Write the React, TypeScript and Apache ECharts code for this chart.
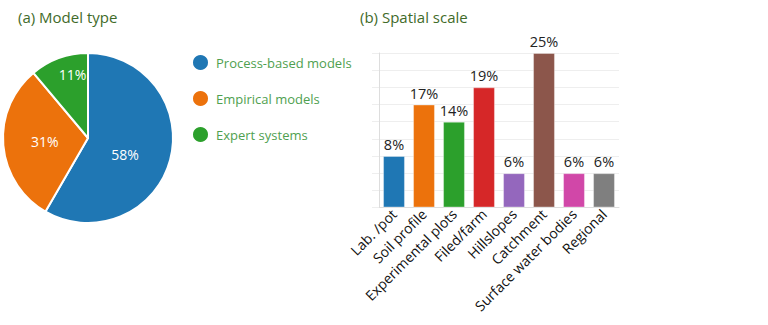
import React, { useEffect, useRef } from "react";
import * as echarts from "echarts";

const modelTypes = ["Process-based models", "Empirical models", "Expert systems"];
const modelCounts = [21, 11, 4];
const modelColors = ["#1f77b4", "#ec720c", "#2ca02c"];

const scaleCategories = [
  "Lab. /pot",
  "Soil profile",
  "Experimental plots",
  "Filed/farm",
  "Hillslopes",
  "Catchment",
  "Surface water bodies",
  "Regional",
];
const scaleCounts = [3, 6, 5, 7, 2, 9, 2, 2];
const scaleColors = ["#1f77b4", "#ec720c", "#2ca02c", "#d62728", "#9467bd", "#8c564b", "#d147a8", "#7f7f7f"];

const FONT = "'Open Sans', 'Noto Sans', sans-serif";

export default function App() {
  const ref = useRef<HTMLDivElement>(null);
  useEffect(() => {
    if (!ref.current) return;
    const chart = echarts.init(ref.current, null, { renderer: "svg" });
    const total = scaleCounts.reduce((a, b) => a + b, 0);
    const pieOffsets = [[-7, 5], [2, 0], [0, -21]];
    chart.setOption({
      animation: false,
      backgroundColor: "#ffffff",
      textStyle: { fontFamily: FONT },
      title: [
        {
          text: "(a) Model type",
          left: 13,
          top: 4,
          textStyle: { color: "#3f6b2a", fontSize: 15, fontWeight: "normal", fontFamily: FONT },
        },
        {
          text: "(b) Spatial scale",
          left: 355,
          top: 4,
          textStyle: { color: "#3f6b2a", fontSize: 15, fontWeight: "normal", fontFamily: FONT },
        },
      ],
      legend: {
        orient: "vertical",
        left: 186,
        top: 48,
        icon: "circle",
        itemWidth: 17,
        itemHeight: 17,
        itemGap: 17,
        data: modelTypes,
        textStyle: { color: "#4f9f50", fontSize: 13, fontFamily: FONT, padding: [0, 0, 0, 2] },
        selectedMode: false,
      },
      grid: { left: 379, right: 149, top: 53, bottom: 117.5, containLabel: false },
      xAxis: {
        type: "category",
        data: scaleCategories,
        axisLine: { lineStyle: { color: "#dddddd" } },
        axisTick: { show: false },
        axisLabel: {
          interval: 0,
          rotate: 45,
          color: "#111111",
          fontSize: 14,
          fontFamily: FONT,
          margin: 4,
        },
      },
      yAxis: {
        type: "value",
        min: 0,
        max: 9,
        interval: 1,
        axisLabel: { show: false },
        axisLine: { show: true, lineStyle: { color: "#dddddd" } },
        axisTick: { show: true, length: 7, lineStyle: { color: "#eeeeee" } },
        splitLine: { lineStyle: { color: "#eeeeee" } },
      },
      series: [
        {
          type: "pie",
          center: [88, 138],
          radius: [0, 85],
          startAngle: 90,
          clockwise: true,
          data: modelTypes.map((name, i) => ({
            name,
            value: modelCounts[i],
            itemStyle: { color: modelColors[i] },
            label: { offset: pieOffsets[i] },
          })),
          itemStyle: { borderColor: "#ffffff", borderWidth: 2 },
          label: {
            show: true,
            position: "inside",
            color: "#ffffff",
            fontSize: 14,
            fontFamily: FONT,
            formatter: (p: any) => Math.round(p.percent) + "%",
          },
          labelLine: { show: false },
          emphasis: { disabled: true },
        },
        {
          type: "bar",
          barCategoryGap: "27%",
          data: scaleCounts.map((v, i) => ({
            value: v,
            itemStyle: { color: scaleColors[i], borderColor: "rgba(255,255,255,0.35)", borderWidth: 1 },
          })),
          label: {
            show: true,
            position: "top",
            distance: 4,
            color: "#222222",
            fontSize: 14.5,
            fontFamily: FONT,
            formatter: (p: any) => Math.round((p.value / total) * 100) + "%",
          },
          emphasis: { disabled: true },
        },
      ],
    });
    return () => chart.dispose();
  }, []);
  return (
    <div
      ref={ref}
      style={{ position: "fixed", left: 0, top: 0, width: 768, height: 325, background: "#fff" }}
    />
  );
}
